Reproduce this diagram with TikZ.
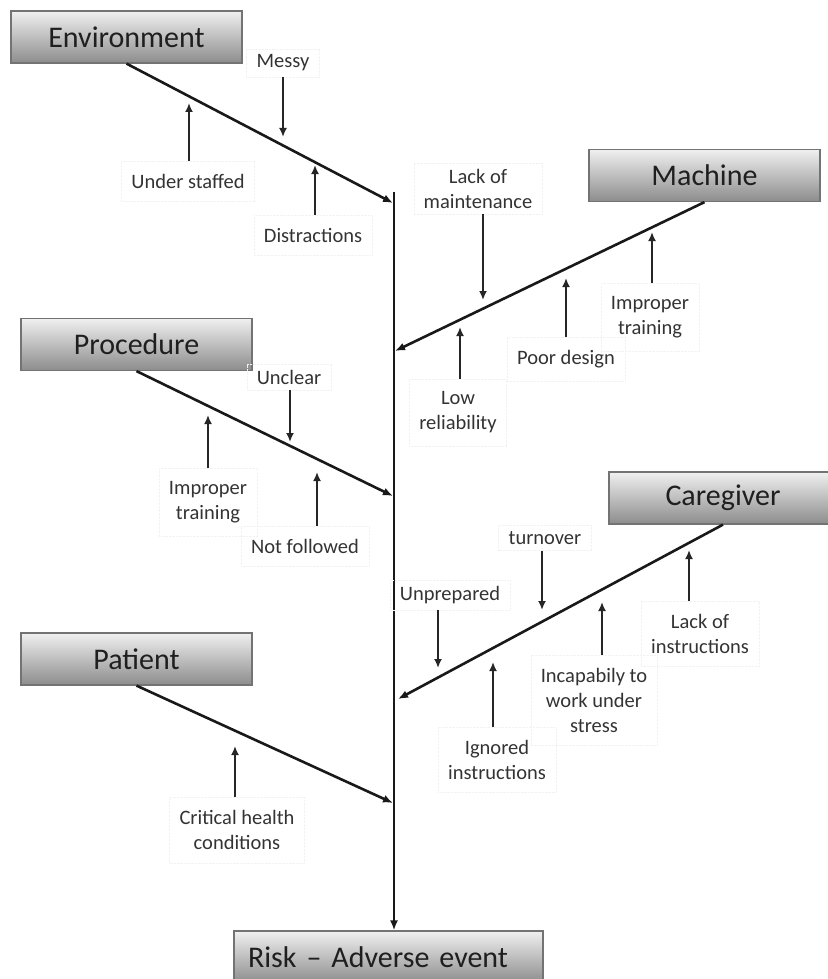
\documentclass[tikz,border=0pt]{standalone}
\usepackage{fontspec}
\setmainfont{Carlito}
\usetikzlibrary{arrows.meta}
\begin{document}
\begin{tikzpicture}[x=1pt,y=-1pt,
  category/.style={draw=black!55, line width=1.2pt, top color=black!6, bottom color=black!45,
    minimum width=231pt, minimum height=52pt, inner sep=0pt,
    font=\fontsize{30}{36}\selectfont, text=black!88},
  bone/.style={draw=black!90, line width=2.6pt, -{Latex[length=10pt,width=8pt]}},
  cause/.style={draw=black!85, line width=2.6pt, -{Latex[length=9pt,width=8pt]}},
  lbl/.style={font=\fontsize{20.5}{25}\selectfont, align=center, text=black!80,
    draw=black!5, densely dotted, inner xsep=10pt},
  lblup/.style={lbl, inner ysep=13pt},
  lbldown/.style={lbl, inner ysep=6pt}
]
\useasboundingbox (0,0) rectangle (827,979);

% category boxes
\node[category] (env)  at (126.5,37)    {Environment};
\node[category] (mach) at (704.5,175.5) {Machine};
\node[category] (proc) at (136.5,344.5) {Procedure};
\node[category, minimum width=228pt] (care) at (723,498) {Caregiver};
\node[category] (pat)  at (136.5,659)   {Patient};
\node[category, minimum width=309pt, text width=281pt, align=left, inner xsep=14pt]
  (risk) at (388.5,957) {Risk \textendash{} Adverse event};

% main spine
\coordinate (top) at (394,192);
\draw[bone] (top) -- (top |- risk.north);

% branches into the spine
\coordinate (jE)  at (393,203);
\coordinate (jM)  at (395,351);
\coordinate (jP)  at (393,496);
\coordinate (jC)  at (398,699);
\coordinate (jPa) at (393,803);
\draw[bone] (env.south)  -- (jE);
\draw[bone] (mach.south) -- (jM);
\draw[bone] (proc.south) -- (jP);
\draw[bone] (care.south) -- (jC);
\draw[bone] (pat.south)  -- (jPa);

% Environment causes
\node[lbldown] (messy) at (283,63) {Messy};
\coordinate (tmessy) at (283,137);
\draw[cause] (messy.south -| tmessy) -- (tmessy);
\node[lblup] (staff) at (188,181) {Under staffed};
\coordinate (tstaff) at (189,103);
\draw[cause] (staff.north -| tstaff) -- (tstaff);
\node[lblup] (distr) at (313,235) {Distractions};
\coordinate (tdistr) at (315,165);
\draw[cause] (distr.north -| tdistr) -- (tdistr);

% Machine causes
\node[lbldown] (maint) at (478,188.5) {Lack of\\maintenance};
\coordinate (tmaint) at (483,300);
\draw[cause] (maint.south -| tmaint) -- (tmaint);
\node[lblup] (lowrel) at (458,412.5) {Low\\reliability};
\coordinate (tlowrel) at (460,327);
\draw[cause] (lowrel.north -| tlowrel) -- (tlowrel);
\node[lblup] (design) at (566,359) {Poor design};
\coordinate (tdesign) at (566,278);
\draw[cause] (design.north -| tdesign) -- (tdesign);
\node[lblup] (trainM) at (650,317.5) {Improper\\training};
\coordinate (ttrainM) at (652,232);
\draw[cause] (trainM.north -| ttrainM) -- (ttrainM);

% Procedure causes
\node[lbldown] (unclear) at (289,377) {Unclear};
\coordinate (tunclear) at (290,442);
\draw[cause] (unclear.south -| tunclear) -- (tunclear);
\node[lblup] (trainP) at (208,502.5) {Improper\\training};
\coordinate (ttrainP) at (208,415);
\draw[cause] (trainP.north -| ttrainP) -- (ttrainP);
\node[lblup] (notfol) at (305,546) {Not followed};
\coordinate (tnotfol) at (317,472);
\draw[cause] (notfol.north -| tnotfol) -- (tnotfol);

% Caregiver causes
\node[lbldown] (turn) at (545,538) {turnover};
\coordinate (tturn) at (542,610);
\draw[cause] (turn.south -| tturn) -- (tturn);
\node[lbldown] (unprep) at (450,595) {Unprepared};
\coordinate (tunprep) at (438,668);
\draw[cause] (unprep.south -| tunprep) -- (tunprep);
\node[lblup] (instr) at (700,633.5) {Lack of\\instructions};
\coordinate (tinstr) at (689,550);
\draw[cause] (instr.north -| tinstr) -- (tinstr);
\node[lblup] (stress) at (594,700) {Incapabily to\\work under\\stress};
\coordinate (tstress) at (602,602);
\draw[cause] (stress.north -| tstress) -- (tstress);
\node[lblup] (ignored) at (497,759.5) {Ignored\\instructions};
\coordinate (tignored) at (493,662);
\draw[cause] (ignored.north -| tignored) -- (tignored);

% Patient cause
\node[lblup] (crit) at (237,830) {Critical health\\conditions};
\coordinate (tcrit) at (235,746);
\draw[cause] (crit.north -| tcrit) -- (tcrit);
\end{tikzpicture}
\end{document}
